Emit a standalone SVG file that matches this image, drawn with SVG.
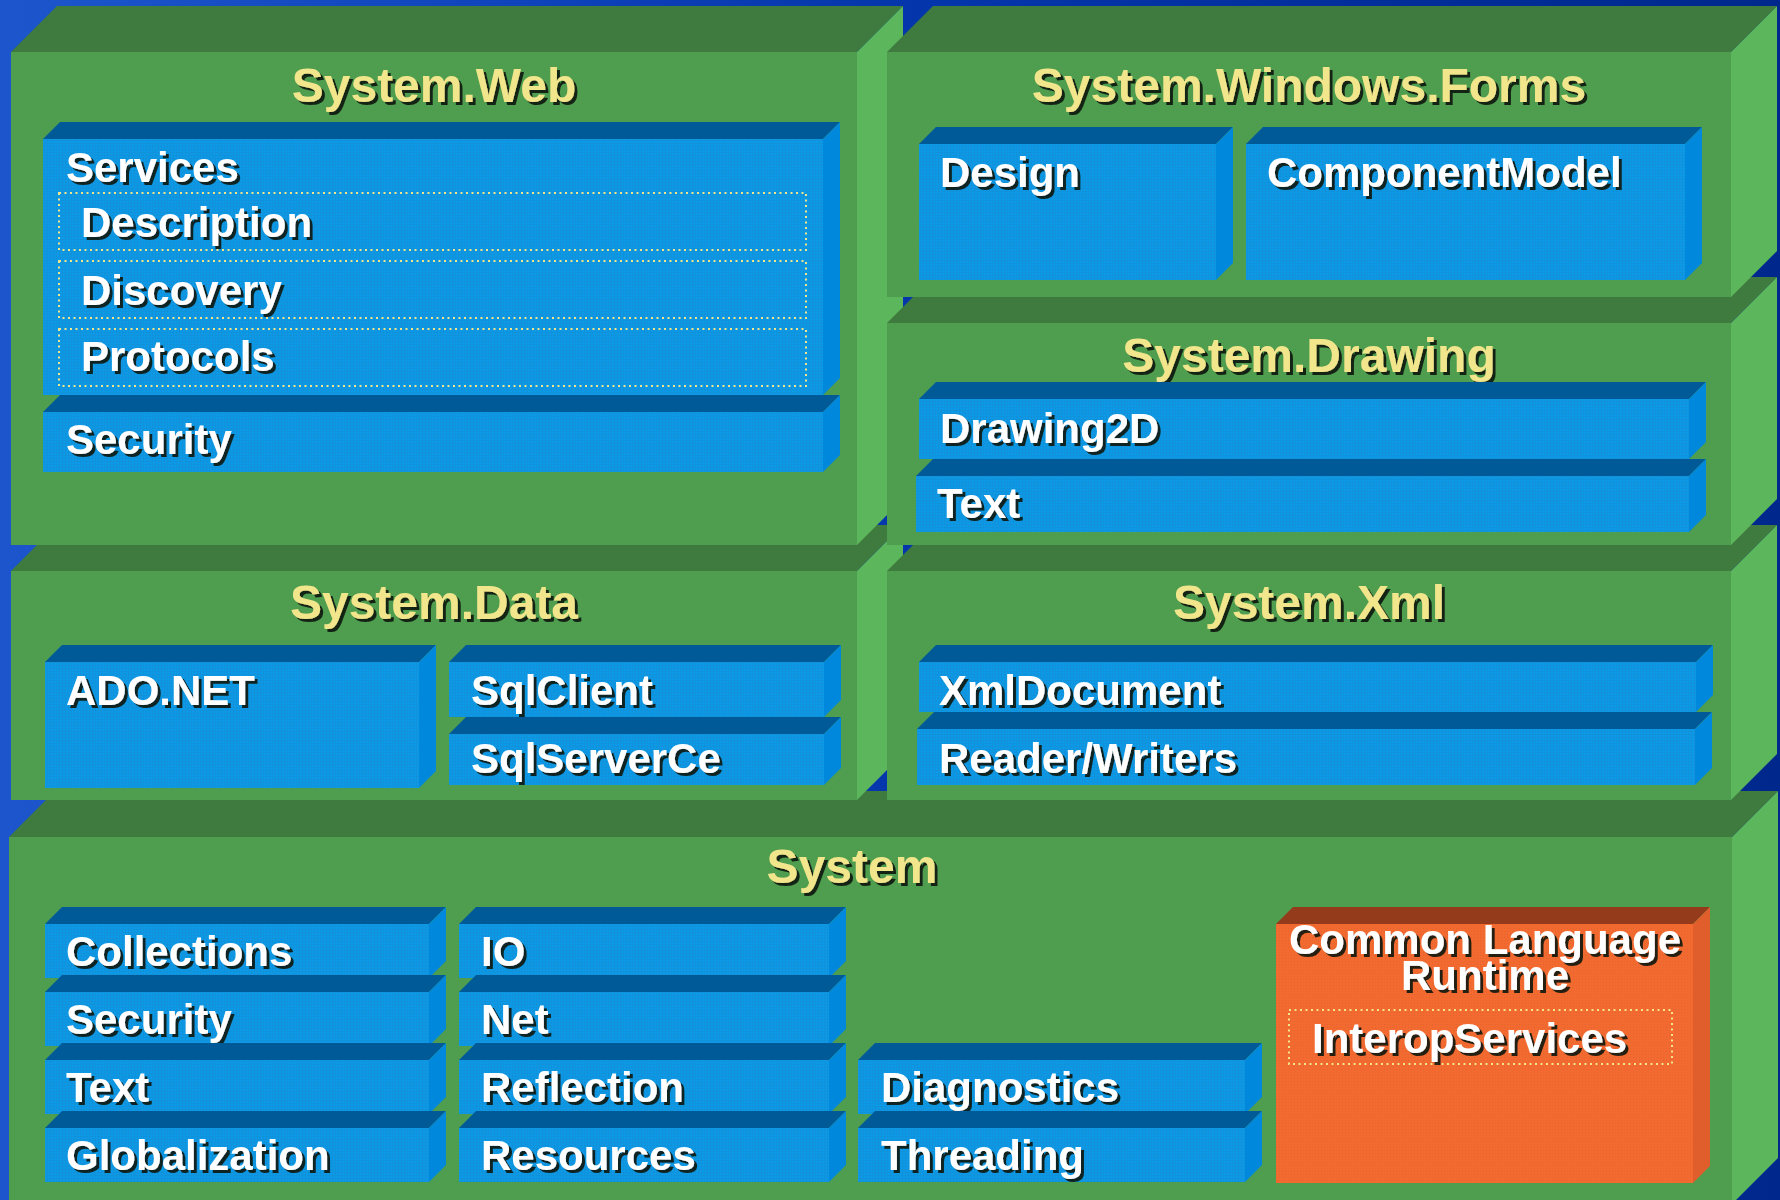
<svg xmlns="http://www.w3.org/2000/svg" width="1780" height="1200" viewBox="0 0 1780 1200">
<defs>
  <linearGradient id="bg" x1="0" y1="0" x2="1" y2="0">
    <stop offset="0" stop-color="#1d56cc"/>
    <stop offset="0.5" stop-color="#0536ac"/>
    <stop offset="1" stop-color="#00288c"/>
  </linearGradient>
  <pattern id="bgrid" width="3" height="3" patternUnits="userSpaceOnUse">
    <rect width="3" height="3" fill="#0a9ae8"/>
    <rect x="0" y="2" width="3" height="1" fill="#1192da"/>
    <rect x="2" y="0" width="1" height="3" fill="#1192da"/>
  </pattern>
  <pattern id="ogrid" width="3" height="3" patternUnits="userSpaceOnUse">
    <rect width="3" height="3" fill="#f36a30"/>
    <rect x="1" y="1" width="1" height="1" fill="#e4652e"/>
  </pattern>
  <filter id="sh" x="-5%" y="-20%" width="115%" height="150%">
    <feDropShadow dx="3" dy="3" stdDeviation="0.6" flood-color="#0e160e" flood-opacity="0.9"/>
  </filter>
  <style>
    .gf{fill:#4f9e4f}
    .gt{fill:#3f7b3f}
    .gs{fill:#5cb65c}
    .bf{fill:url(#bgrid)}
    .bt{fill:#005a98}
    .bs{fill:#0088dd}
    .of{fill:url(#ogrid)}
    .ot{fill:#943b1c}
    .os{fill:#e05e2c}
    .title{font-family:"Liberation Sans",Arial,sans-serif;font-weight:bold;font-size:48px;fill:#f2e68c;text-anchor:middle;filter:url(#sh)}
    .label{font-family:"Liberation Sans",Arial,sans-serif;font-weight:bold;font-size:42px;fill:#ffffff;filter:url(#sh)}
    .mid{text-anchor:middle}
    .dots{fill:none;stroke:#f2e68c;stroke-width:2;stroke-dasharray:2 3.5}
  </style>
</defs>

<rect x="0" y="0" width="1780" height="1200" fill="url(#bg)"/>

<g id="connectors"></g>

<!-- System -->
<g id="system">
  <polygon class="gt" points="9,837 55,791 1778,791 1732,837"/>
  <polygon class="gs" points="1732,837 1778,791 1778,1158 1732,1204"/>
  <rect class="gf" x="9" y="837" width="1723" height="367"/>
  <text class="title" x="852" y="883">System</text>

  <g id="sys-collections">
    <polygon class="bt" points="45,924 62,907 446,907 429,924"/>
    <polygon class="bs" points="429,924 446,907 446,961 429,978"/>
    <rect class="bf" x="45" y="924" width="384" height="54"/>
    <text class="label" x="66" y="966">Collections</text>
  </g>
  <g id="sys-security">
    <polygon class="bt" points="45,992 62,975 446,975 429,992"/>
    <polygon class="bs" points="429,992 446,975 446,1029 429,1046"/>
    <rect class="bf" x="45" y="992" width="384" height="54"/>
    <text class="label" x="66" y="1034">Security</text>
  </g>
  <g id="sys-text">
    <polygon class="bt" points="45,1060 62,1043 446,1043 429,1060"/>
    <polygon class="bs" points="429,1060 446,1043 446,1097 429,1114"/>
    <rect class="bf" x="45" y="1060" width="384" height="54"/>
    <text class="label" x="66" y="1102">Text</text>
  </g>
  <g id="sys-globalization">
    <polygon class="bt" points="45,1128 62,1111 446,1111 429,1128"/>
    <polygon class="bs" points="429,1128 446,1111 446,1165 429,1182"/>
    <rect class="bf" x="45" y="1128" width="384" height="54"/>
    <text class="label" x="66" y="1170">Globalization</text>
  </g>

  <g id="sys-io">
    <polygon class="bt" points="459,924 476,907 846,907 829,924"/>
    <polygon class="bs" points="829,924 846,907 846,961 829,978"/>
    <rect class="bf" x="459" y="924" width="370" height="54"/>
    <text class="label" x="481" y="966">IO</text>
  </g>
  <g id="sys-net">
    <polygon class="bt" points="459,992 476,975 846,975 829,992"/>
    <polygon class="bs" points="829,992 846,975 846,1029 829,1046"/>
    <rect class="bf" x="459" y="992" width="370" height="54"/>
    <text class="label" x="481" y="1034">Net</text>
  </g>
  <g id="sys-reflection">
    <polygon class="bt" points="459,1060 476,1043 846,1043 829,1060"/>
    <polygon class="bs" points="829,1060 846,1043 846,1097 829,1114"/>
    <rect class="bf" x="459" y="1060" width="370" height="54"/>
    <text class="label" x="481" y="1102">Reflection</text>
  </g>
  <g id="sys-resources">
    <polygon class="bt" points="459,1128 476,1111 846,1111 829,1128"/>
    <polygon class="bs" points="829,1128 846,1111 846,1165 829,1182"/>
    <rect class="bf" x="459" y="1128" width="370" height="54"/>
    <text class="label" x="481" y="1170">Resources</text>
  </g>

  <g id="sys-diagnostics">
    <polygon class="bt" points="858,1060 875,1043 1262,1043 1245,1060"/>
    <polygon class="bs" points="1245,1060 1262,1043 1262,1097 1245,1114"/>
    <rect class="bf" x="858" y="1060" width="387" height="54"/>
    <text class="label" x="881" y="1102">Diagnostics</text>
  </g>
  <g id="sys-threading">
    <polygon class="bt" points="858,1128 875,1111 1262,1111 1245,1128"/>
    <polygon class="bs" points="1245,1128 1262,1111 1262,1165 1245,1182"/>
    <rect class="bf" x="858" y="1128" width="387" height="54"/>
    <text class="label" x="881" y="1170">Threading</text>
  </g>

  <g id="clr">
    <polygon class="ot" points="1276,924 1293,907 1710,907 1693,924"/>
    <polygon class="os" points="1693,924 1710,907 1710,1166 1693,1183"/>
    <rect class="of" x="1276" y="924" width="417" height="259"/>
    <text class="label mid" x="1485" y="954">Common Language</text>
    <text class="label mid" x="1485" y="990">Runtime</text>
    <g id="clr-interop">
      <rect class="dots" x="1289" y="1010" width="383" height="54"/>
      <text class="label" x="1312" y="1053">InteropServices</text>
    </g>
  </g>
</g>

<!-- System.Data -->
<g id="system-data">
  <polygon class="gt" points="11,571 57,525 903,525 857,571"/>
  <polygon class="gs" points="857,571 903,525 903,754 857,800"/>
  <rect class="gf" x="11" y="571" width="846" height="229"/>
  <text class="title" x="434" y="619">System.Data</text>
  <g id="data-adonet">
    <polygon class="bt" points="45,662 62,645 436,645 419,662"/>
    <polygon class="bs" points="419,662 436,645 436,771 419,788"/>
    <rect class="bf" x="45" y="662" width="374" height="126"/>
    <text class="label" x="66" y="705">ADO.NET</text>
  </g>
  <g id="data-sqlclient">
    <polygon class="bt" points="449,662 466,645 841,645 824,662"/>
    <polygon class="bs" points="824,662 841,645 841,700 824,717"/>
    <rect class="bf" x="449" y="662" width="375" height="55"/>
    <text class="label" x="471" y="705">SqlClient</text>
  </g>
  <g id="data-sqlserverce">
    <polygon class="bt" points="449,734 466,717 841,717 824,734"/>
    <polygon class="bs" points="824,734 841,717 841,768 824,785"/>
    <rect class="bf" x="449" y="734" width="375" height="51"/>
    <text class="label" x="471" y="773">SqlServerCe</text>
  </g>
</g>

<!-- System.Xml -->
<g id="system-xml">
  <polygon class="gt" points="887,571 933,525 1777,525 1731,571"/>
  <polygon class="gs" points="1731,571 1777,525 1777,754 1731,800"/>
  <rect class="gf" x="887" y="571" width="844" height="229"/>
  <text class="title" x="1309" y="619">System.Xml</text>
  <g id="xml-xmldocument">
    <polygon class="bt" points="919,662 936,645 1713,645 1696,662"/>
    <polygon class="bs" points="1696,662 1713,645 1713,695 1696,712"/>
    <rect class="bf" x="919" y="662" width="777" height="50"/>
    <text class="label" x="939" y="705">XmlDocument</text>
  </g>
  <g id="xml-readerwriters">
    <polygon class="bt" points="917,729 934,712 1712,712 1695,729"/>
    <polygon class="bs" points="1695,729 1712,712 1712,768 1695,785"/>
    <rect class="bf" x="917" y="729" width="778" height="56"/>
    <text class="label" x="939" y="773">Reader/Writers</text>
  </g>
</g>

<!-- System.Web -->
<g id="system-web">
  <polygon class="gt" points="11,52 57,6 903,6 857,52"/>
  <polygon class="gs" points="857,52 903,6 903,499 857,545"/>
  <rect class="gf" x="11" y="52" width="846" height="493"/>
  <text class="title" x="434" y="102">System.Web</text>
  <g id="web-services">
    <polygon class="bt" points="43,139 60,122 840,122 823,139"/>
    <polygon class="bs" points="823,139 840,122 840,378 823,395"/>
    <rect class="bf" x="43" y="139" width="780" height="256"/>
    <text class="label" x="66" y="182">Services</text>
    <g id="web-description">
      <rect class="dots" x="59" y="193" width="747" height="57"/>
      <text class="label" x="81" y="237">Description</text>
    </g>
    <g id="web-discovery">
      <rect class="dots" x="59" y="261" width="747" height="57"/>
      <text class="label" x="81" y="305">Discovery</text>
    </g>
    <g id="web-protocols">
      <rect class="dots" x="59" y="329" width="747" height="57"/>
      <text class="label" x="81" y="371">Protocols</text>
    </g>
  </g>
  <g id="web-security">
    <polygon class="bt" points="43,412 60,395 840,395 823,412"/>
    <polygon class="bs" points="823,412 840,395 840,455 823,472"/>
    <rect class="bf" x="43" y="412" width="780" height="60"/>
    <text class="label" x="66" y="454">Security</text>
  </g>
</g>

<!-- System.Drawing -->
<g id="system-drawing">
  <polygon class="gt" points="887,323 933,277 1777,277 1731,323"/>
  <polygon class="gs" points="1731,323 1777,277 1777,499 1731,545"/>
  <rect class="gf" x="887" y="323" width="844" height="222"/>
  <text class="title" x="1309" y="372">System.Drawing</text>
  <g id="drawing-drawing2d">
    <polygon class="bt" points="919,399 936,382 1706,382 1689,399"/>
    <polygon class="bs" points="1689,399 1706,382 1706,442 1689,459"/>
    <rect class="bf" x="919" y="399" width="770" height="60"/>
    <text class="label" x="940" y="443">Drawing2D</text>
  </g>
  <g id="drawing-text">
    <polygon class="bt" points="916,476 933,459 1706,459 1689,476"/>
    <polygon class="bs" points="1689,476 1706,459 1706,515 1689,532"/>
    <rect class="bf" x="916" y="476" width="773" height="56"/>
    <text class="label" x="937" y="518">Text</text>
  </g>
</g>

<!-- System.Windows.Forms -->
<g id="system-windows-forms">
  <polygon class="gt" points="887,52 933,6 1777,6 1731,52"/>
  <polygon class="gs" points="1731,52 1777,6 1777,251 1731,297"/>
  <rect class="gf" x="887" y="52" width="844" height="245"/>
  <text class="title" x="1309" y="102">System.Windows.Forms</text>
  <g id="forms-design">
    <polygon class="bt" points="919,144 936,127 1233,127 1216,144"/>
    <polygon class="bs" points="1216,144 1233,127 1233,263 1216,280"/>
    <rect class="bf" x="919" y="144" width="297" height="136"/>
    <text class="label" x="940" y="187">Design</text>
  </g>
  <g id="forms-componentmodel">
    <polygon class="bt" points="1246,144 1263,127 1702,127 1685,144"/>
    <polygon class="bs" points="1685,144 1702,127 1702,263 1685,280"/>
    <rect class="bf" x="1246" y="144" width="439" height="136"/>
    <text class="label" x="1267" y="187">ComponentModel</text>
  </g>
</g>
</svg>
